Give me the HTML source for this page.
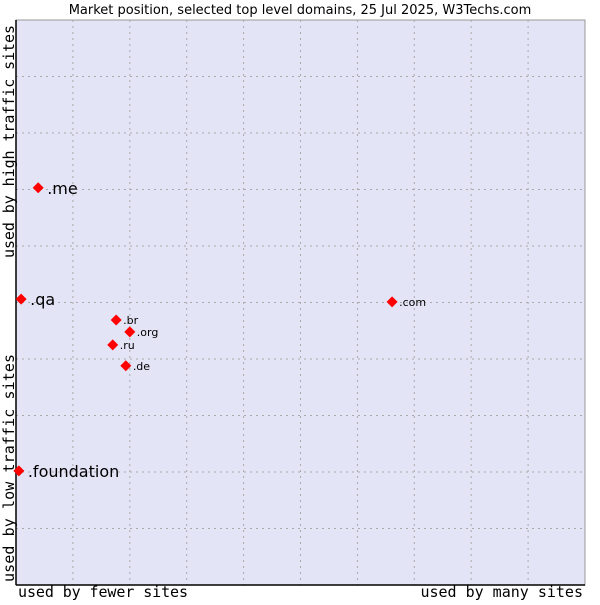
<!DOCTYPE html>
<html><head><meta charset="utf-8"><style>
body{margin:0;background:#fff;}
svg text{font-family:"DejaVu Sans","Liberation Sans",sans-serif;}
svg text.mono{font-family:"DejaVu Sans Mono","Liberation Mono",monospace;}
</style></head><body>
<svg id="chart" width="600" height="600" xmlns="http://www.w3.org/2000/svg">
<text x="300" y="14" text-anchor="middle" font-size="13" fill="#000">Market position, selected top level domains, 25 Jul 2025, W3Techs.com</text>
<rect x="16" y="20" width="569" height="565" fill="#e4e4f7" stroke="#999" stroke-width="1"/>
<g id="grid"></g>
<line x1="16" y1="20" x2="16" y2="585" stroke="#000" stroke-width="1.5"/>
<line x1="16" y1="585" x2="585" y2="585" stroke="#000" stroke-width="1.5"/>
<text class="mono" x="18" y="597" font-size="15" textLength="170">used by fewer sites</text>
<text class="mono" x="583" y="597" font-size="15" text-anchor="end">used by many sites</text>
<text class="mono" transform="translate(14,582) rotate(-90)" font-size="15" textLength="228">used by low traffic sites</text>
<text class="mono" transform="translate(14,258) rotate(-90)" font-size="15" textLength="233">used by high traffic sites</text>
<g id="points"></g>
</svg>
<script>
const domains=[".me",".qa",".foundation",".com",".br",".org",".ru",".de"];
const usage=[3.9,0.9,0.5,66.1,17.6,20.0,17.0,19.3];
const traffic=[70.3,50.6,20.2,50.1,46.9,44.8,42.5,38.8];
const big=[true,true,true,false,false,false,false,false];
const NS="http://www.w3.org/2000/svg";
const X0=16,X1=585,Y0=585,Y1=20;
const sx=v=>X0+(X1-X0)*v/100;
const sy=v=>Y0-(Y0-Y1)*v/100;
const grid=document.getElementById('grid');
for(let i=1;i<10;i++){
 const l=document.createElementNS(NS,'line');
 l.setAttribute('x1',sx(i*10));l.setAttribute('x2',sx(i*10));l.setAttribute('y1',Y1);l.setAttribute('y2',Y0);
 l.setAttribute('stroke','#aaa');l.setAttribute('stroke-dasharray','2,4');
 
 
 grid.appendChild(l);
 const h=document.createElementNS(NS,'line');
 h.setAttribute('y1',sy(i*10));h.setAttribute('y2',sy(i*10));h.setAttribute('x1',X0);h.setAttribute('x2',X1);
 h.setAttribute('stroke','#aaa');h.setAttribute('stroke-dasharray','2,4');
 
 
 grid.appendChild(h);
}
const pts=document.getElementById('points');
domains.forEach((d,i)=>{
 const x=sx(usage[i]),y=sy(traffic[i]);
 const r=5.5;
 const p=document.createElementNS(NS,'path');
 p.setAttribute('d',`M${x} ${y-r}L${x+r} ${y}L${x} ${y+r}L${x-r} ${y}Z`);
 p.setAttribute('fill','#f00');
 
 
 pts.appendChild(p);
 const t=document.createElementNS(NS,'text');
 t.setAttribute('x',x+(big[i]?9:7));t.setAttribute('y',y+(big[i]?6:4));
 t.setAttribute('font-size',big[i]?16:11);
 t.textContent=d;
 
 
 pts.appendChild(t);
});
</script>
</body></html>
